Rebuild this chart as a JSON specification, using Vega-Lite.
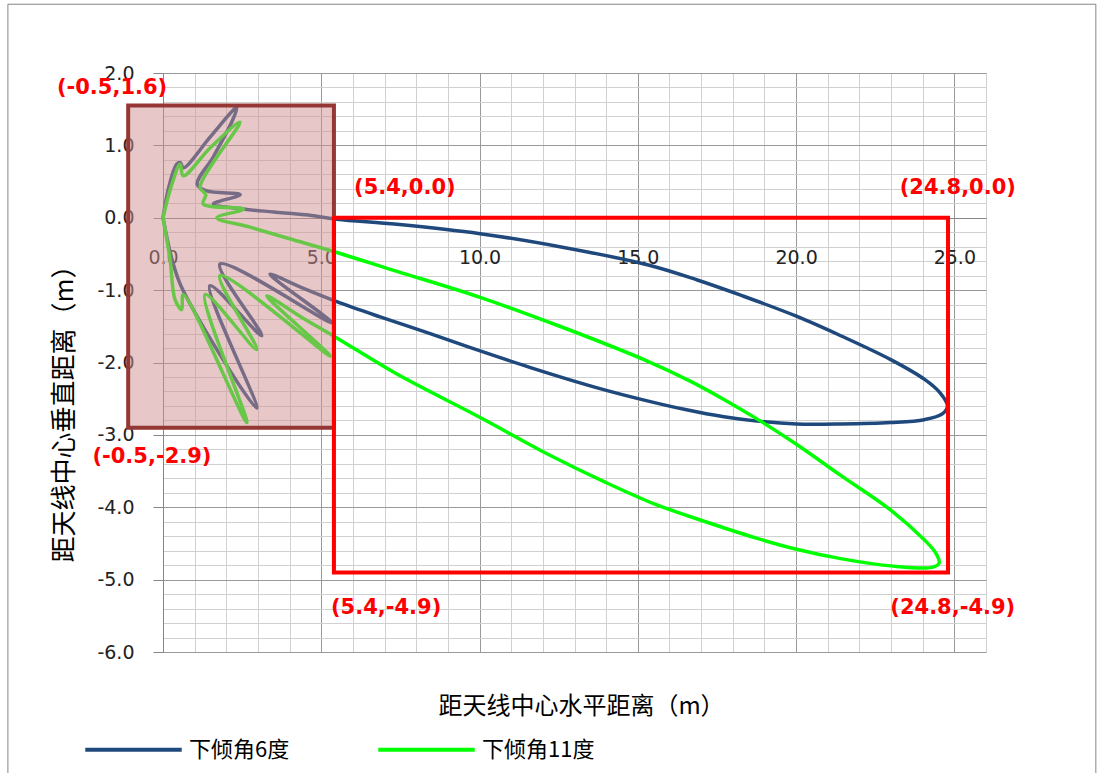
{
  "$schema": "https://vega.github.io/schema/vega-lite/v6.json",
  "width": 823,
  "height": 579,
  "autosize": "none",
  "padding": {"left": 163, "top": 73, "right": 118, "bottom": 121},
  "background": "white",
  "config": {"view": {"stroke": null}},
  "datasets": {
    "lines": [
      {"s": "下倾角6度", "i": 1, "x": 0, "y": 0},
      {"s": "下倾角6度", "i": 2, "x": 0.18, "y": 0.42},
      {"s": "下倾角6度", "i": 3, "x": 0.43, "y": 0.74},
      {"s": "下倾角6度", "i": 4, "x": 0.55, "y": 0.76},
      {"s": "下倾角6度", "i": 5, "x": 0.64, "y": 0.69},
      {"s": "下倾角6度", "i": 6, "x": 1.5, "y": 1.12},
      {"s": "下倾角6度", "i": 7, "x": 2.25, "y": 1.5},
      {"s": "下倾角6度", "i": 8, "x": 2.33, "y": 1.52},
      {"s": "下倾角6度", "i": 9, "x": 2.2, "y": 1.35},
      {"s": "下倾角6度", "i": 10, "x": 1.6, "y": 0.85},
      {"s": "下倾角6度", "i": 11, "x": 1.08, "y": 0.46},
      {"s": "下倾角6度", "i": 12, "x": 1.38, "y": 0.37},
      {"s": "下倾角6度", "i": 13, "x": 2.44, "y": 0.32},
      {"s": "下倾角6度", "i": 14, "x": 1.59, "y": 0.19},
      {"s": "下倾角6度", "i": 15, "x": 2.54, "y": 0.12},
      {"s": "下倾角6度", "i": 16, "x": 3.5, "y": 0.08},
      {"s": "下倾角6度", "i": 17, "x": 4.5, "y": 0.04},
      {"s": "下倾角6度", "i": 18, "x": 5.49, "y": -0.02},
      {"s": "下倾角6度", "i": 19, "x": 7.39, "y": -0.09},
      {"s": "下倾角6度", "i": 20, "x": 10.02, "y": -0.22},
      {"s": "下倾角6度", "i": 21, "x": 12.66, "y": -0.41},
      {"s": "下倾角6度", "i": 22, "x": 15.3, "y": -0.65},
      {"s": "下倾角6度", "i": 23, "x": 16.88, "y": -0.86},
      {"s": "下倾角6度", "i": 24, "x": 18.25, "y": -1.07},
      {"s": "下倾角6度", "i": 25, "x": 20.01, "y": -1.36},
      {"s": "下倾角6度", "i": 26, "x": 21.41, "y": -1.63},
      {"s": "下倾角6度", "i": 27, "x": 22.99, "y": -1.96},
      {"s": "下倾角6度", "i": 28, "x": 24.05, "y": -2.23},
      {"s": "下倾角6度", "i": 29, "x": 24.55, "y": -2.42},
      {"s": "下倾角6度", "i": 30, "x": 24.78, "y": -2.6},
      {"s": "下倾角6度", "i": 31, "x": 24.62, "y": -2.71},
      {"s": "下倾角6度", "i": 32, "x": 24.05, "y": -2.79},
      {"s": "下倾角6度", "i": 33, "x": 22.99, "y": -2.83},
      {"s": "下倾角6度", "i": 34, "x": 21.41, "y": -2.85},
      {"s": "下倾角6度", "i": 35, "x": 20.01, "y": -2.85},
      {"s": "下倾角6度", "i": 36, "x": 18.77, "y": -2.81},
      {"s": "下倾角6度", "i": 37, "x": 17.72, "y": -2.75},
      {"s": "下倾角6度", "i": 38, "x": 16.5, "y": -2.65},
      {"s": "下倾角6度", "i": 39, "x": 15.3, "y": -2.53},
      {"s": "下倾角6度", "i": 40, "x": 13.72, "y": -2.35},
      {"s": "下倾角6度", "i": 41, "x": 11.61, "y": -2.07},
      {"s": "下倾角6度", "i": 42, "x": 10.02, "y": -1.84},
      {"s": "下倾角6度", "i": 43, "x": 8.44, "y": -1.6},
      {"s": "下倾角6度", "i": 44, "x": 6.86, "y": -1.37},
      {"s": "下倾角6度", "i": 45, "x": 5.49, "y": -1.16},
      {"s": "下倾角6度", "i": 46, "x": 4.4, "y": -0.97},
      {"s": "下倾角6度", "i": 47, "x": 3.38, "y": -0.78},
      {"s": "下倾角6度", "i": 48, "x": 5.33, "y": -1.45},
      {"s": "下倾角6度", "i": 49, "x": 1.8, "y": -0.64},
      {"s": "下倾角6度", "i": 50, "x": 3.12, "y": -1.63},
      {"s": "下倾角6度", "i": 51, "x": 1.48, "y": -0.94},
      {"s": "下倾角6度", "i": 52, "x": 2.96, "y": -2.63},
      {"s": "下倾角6度", "i": 53, "x": 0.64, "y": -1.01},
      {"s": "下倾角6度", "i": 54, "x": 0.3, "y": -0.6},
      {"s": "下倾角6度", "i": 55, "x": 0, "y": 0},
      {"s": "下倾角11度", "i": 1, "x": 0, "y": 0},
      {"s": "下倾角11度", "i": 2, "x": 0.25, "y": 0.42},
      {"s": "下倾角11度", "i": 3, "x": 0.54, "y": 0.74},
      {"s": "下倾角11度", "i": 4, "x": 0.64, "y": 0.58},
      {"s": "下倾角11度", "i": 5, "x": 1.5, "y": 0.97},
      {"s": "下倾角11度", "i": 6, "x": 2.43, "y": 1.32},
      {"s": "下倾角11度", "i": 7, "x": 1.17, "y": 0.42},
      {"s": "下倾角11度", "i": 8, "x": 1.35, "y": 0.32},
      {"s": "下倾角11度", "i": 9, "x": 1.27, "y": 0.19},
      {"s": "下倾角11度", "i": 10, "x": 2.54, "y": 0.12},
      {"s": "下倾角11度", "i": 11, "x": 1.7, "y": 0.0},
      {"s": "下倾角11度", "i": 12, "x": 2.75, "y": -0.13},
      {"s": "下倾角11度", "i": 13, "x": 4.0, "y": -0.29},
      {"s": "下倾角11度", "i": 14, "x": 5.49, "y": -0.48},
      {"s": "下倾角11度", "i": 15, "x": 7.39, "y": -0.74},
      {"s": "下倾角11度", "i": 16, "x": 10.02, "y": -1.1},
      {"s": "下倾角11度", "i": 17, "x": 12.66, "y": -1.52},
      {"s": "下倾角11度", "i": 18, "x": 15.3, "y": -1.98},
      {"s": "下倾角11度", "i": 19, "x": 16.67, "y": -2.26},
      {"s": "下倾角11度", "i": 20, "x": 17.72, "y": -2.51},
      {"s": "下倾角11度", "i": 21, "x": 18.88, "y": -2.81},
      {"s": "下倾角11度", "i": 22, "x": 20.01, "y": -3.13},
      {"s": "下倾角11度", "i": 23, "x": 21.41, "y": -3.56},
      {"s": "下倾角11度", "i": 24, "x": 22.99, "y": -4.04},
      {"s": "下倾角11度", "i": 25, "x": 24.05, "y": -4.45},
      {"s": "下倾角11度", "i": 26, "x": 24.41, "y": -4.63},
      {"s": "下倾角11度", "i": 27, "x": 24.52, "y": -4.77},
      {"s": "下倾角11度", "i": 28, "x": 24.3, "y": -4.83},
      {"s": "下倾角11度", "i": 29, "x": 22.99, "y": -4.81},
      {"s": "下倾角11度", "i": 30, "x": 21.41, "y": -4.71},
      {"s": "下倾角11度", "i": 31, "x": 20.01, "y": -4.58},
      {"s": "下倾角11度", "i": 32, "x": 18.77, "y": -4.43},
      {"s": "下倾角11度", "i": 33, "x": 17.0, "y": -4.18},
      {"s": "下倾角11度", "i": 34, "x": 15.5, "y": -3.95},
      {"s": "下倾角11度", "i": 35, "x": 14.0, "y": -3.66},
      {"s": "下倾角11度", "i": 36, "x": 12.13, "y": -3.26},
      {"s": "下倾角11度", "i": 37, "x": 10.02, "y": -2.76},
      {"s": "下倾角11度", "i": 38, "x": 7.39, "y": -2.16},
      {"s": "下倾角11度", "i": 39, "x": 5.49, "y": -1.66},
      {"s": "下倾角11度", "i": 40, "x": 4.4, "y": -1.38},
      {"s": "下倾角11度", "i": 41, "x": 3.28, "y": -1.08},
      {"s": "下倾角11度", "i": 42, "x": 5.28, "y": -1.91},
      {"s": "下倾角11度", "i": 43, "x": 1.8, "y": -0.8},
      {"s": "下倾角11度", "i": 44, "x": 2.96, "y": -1.82},
      {"s": "下倾角11度", "i": 45, "x": 1.33, "y": -1.06},
      {"s": "下倾角11度", "i": 46, "x": 2.65, "y": -2.83},
      {"s": "下倾角11度", "i": 47, "x": 0.64, "y": -1.06},
      {"s": "下倾角11度", "i": 48, "x": 0.59, "y": -1.27},
      {"s": "下倾角11度", "i": 49, "x": 0.38, "y": -1.13},
      {"s": "下倾角11度", "i": 50, "x": 0.22, "y": -0.57},
      {"s": "下倾角11度", "i": 51, "x": 0, "y": 0}
    ]
  },
  "encoding": {
    "x": {
      "field": "x", "type": "quantitative",
      "scale": {"domain": [0, 26], "nice": false, "zero": false},
      "axis": {
        "orient": "bottom", "offset": -434,
        "values": [0,1,2,3,4,5,6,7,8,9,10,11,12,13,14,15,16,17,18,19,20,21,22,23,24,25,26],
        "grid": true,
        "gridColor": {"condition": {"test": "datum.value % 5 === 0", "value": "#999999"}, "value": "#D0D0D0"},
        "ticks": false,
        "domainColor": "#868686",
        "labelExpr": "datum.value % 5 === 0 ? format(datum.value, '.1f') : ''",
        "labelFont": "DejaVu Sans", "labelFontSize": 19, "labelColor": "#222222",
        "labelPadding": 30, "labelOverlap": false, "labelFlush": false, "labelBound": false,
        "title": "距天线中心水平距离（m）",
        "titleFont": "Noto Sans CJK SC", "titleFontSize": 24, "titleFontWeight": "normal", "titleColor": "#000000",
        "titleX": 418, "titleY": 488, "titleBaseline": "middle", "titleAlign": "center", "titleAnchor": null
      }
    },
    "y": {
      "field": "y", "type": "quantitative",
      "scale": {"domain": [-6, 2], "nice": false, "zero": false},
      "axis": {
        "orient": "left",
        "values": [-6,-5.8,-5.6,-5.4,-5.2,-5,-4.8,-4.6,-4.4,-4.2,-4,-3.8,-3.6,-3.4,-3.2,-3,-2.8,-2.6,-2.4,-2.2,-2,-1.8,-1.6,-1.4,-1.2,-1,-0.8,-0.6,-0.4,-0.2,0,0.2,0.4,0.6,0.8,1,1.2,1.4,1.6,1.8,2],
        "grid": true,
        "gridColor": {"condition": {"test": "abs(datum.value - round(datum.value)) < 0.001", "value": "#999999"}, "value": "#D0D0D0"},
        "tickSize": 10, "tickColor": "#868686",
        "tickOpacity": {"condition": {"test": "abs(datum.value - round(datum.value)) < 0.001", "value": 1}, "value": 0},
        "domainColor": "#868686",
        "labelExpr": "abs(datum.value - round(datum.value)) < 0.001 ? replace(format(datum.value, '.1f'), '\u2212', '-') : ''",
        "labelFont": "DejaVu Sans", "labelFontSize": 19, "labelColor": "#222222",
        "labelPadding": 19, "labelOverlap": false, "labelBound": false,
        "title": "距天线中心垂直距离（m）",
        "titleFont": "Noto Sans CJK SC", "titleFontSize": 26, "titleFontWeight": "normal", "titleColor": "#000000",
        "titleX": -99, "titleY": 334, "titleAngle": -90, "titleBaseline": "middle", "titleAlign": "center"
      }
    }
  },
  "layer": [
    {
      "data": {"values": [{"x": -4.9, "x2": 29.47, "y": 2.95, "y2": -8.5}]},
      "mark": {"type": "rect", "fill": null, "stroke": "#868686", "strokeWidth": 1},
      "encoding": {"x2": {"field": "x2"}, "y2": {"field": "y2"}}
    },
    {
      "data": {"name": "lines"},
      "mark": {"type": "line", "interpolate": "catmull-rom", "strokeWidth": 3.5, "strokeJoin": "round", "strokeCap": "round"},
      "encoding": {
        "order": {"field": "i", "type": "quantitative"},
        "color": {
          "field": "s", "type": "nominal",
          "scale": {"domain": ["下倾角6度", "下倾角11度"], "range": ["#1F497D", "#00FF00"]},
          "legend": {
            "orient": "none", "legendX": -80, "legendY": 626, "direction": "horizontal",
            "title": null, "symbolType": "stroke", "symbolSize": 9300, "symbolStrokeWidth": 4,
            "labelFont": "Noto Sans CJK SC", "labelFontSize": 22, "labelColor": "#000000",
            "labelOffset": 5, "columnPadding": 80, "padding": 0
          }
        }
      }
    },
    {
      "data": {"values": [{"x": -1.1, "x2": 5.4, "y": 1.55, "y2": -2.9}]},
      "mark": {"type": "rect", "fill": "#D09090", "fillOpacity": 0.5, "stroke": "#953735", "strokeWidth": 4},
      "encoding": {"x2": {"field": "x2"}, "y2": {"field": "y2"}}
    },
    {
      "data": {"values": [{"x": 5.4, "x2": 24.8, "y": 0, "y2": -4.9}]},
      "mark": {"type": "rect", "fill": null, "stroke": "#FF0000", "strokeWidth": 4},
      "encoding": {"x2": {"field": "x2"}, "y2": {"field": "y2"}}
    },
    {
      "data": {"values": [
        {"label": "(-0.5,1.6)", "x": -1.61, "y": 1.79},
        {"label": "(-0.5,-2.9)", "x": -0.35, "y": -3.31},
        {"label": "(5.4,0.0)", "x": 7.64, "y": 0.41},
        {"label": "(24.8,0.0)", "x": 25.11, "y": 0.41},
        {"label": "(5.4,-4.9)", "x": 7.05, "y": -5.39},
        {"label": "(24.8,-4.9)", "x": 24.95, "y": -5.39}
      ]},
      "mark": {"type": "text", "font": "DejaVu Sans", "fontSize": 21, "fontWeight": "bold", "color": "#FF0000", "align": "center", "baseline": "middle"},
      "encoding": {"text": {"field": "label"}}
    }
  ]
}
